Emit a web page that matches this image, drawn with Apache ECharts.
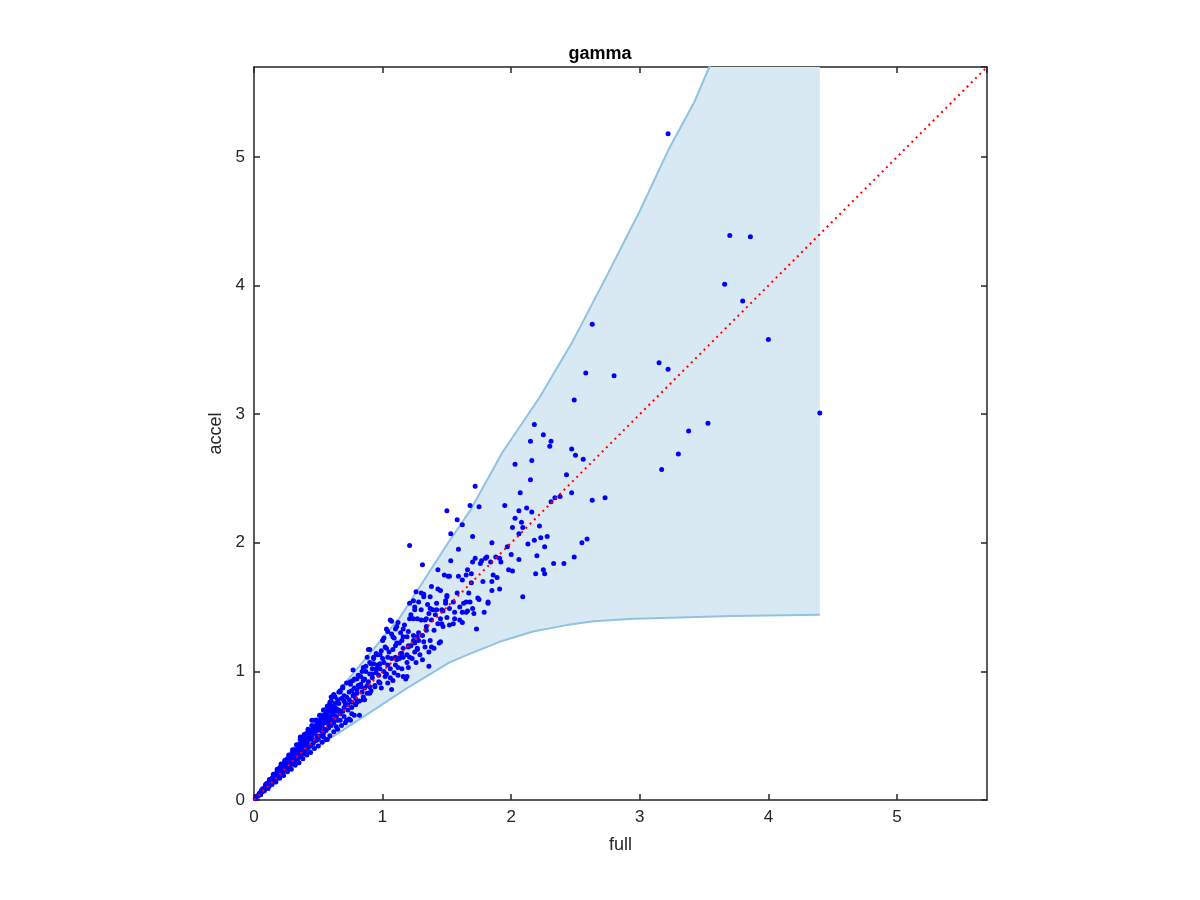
<!DOCTYPE html>
<html>
<head>
<meta charset="utf-8">
<style>html,body{margin:0;padding:0;background:#fff;}#c{width:1200px;height:900px;}</style>
<script src="https://cdn.jsdelivr.net/npm/echarts@6/dist/echarts.min.js"></script>
</head>
<body>
<div id="c"></div>
<script>
// ---- data ----
var titleText = 'gamma';
var xName = 'full';
var yName = 'accel';
var axisMin = 0, axisMax = 5.7, tickStep = 1;

// band upper edge (full, accel)
var upperFull  = [0, 0.41, 0.75, 1.135, 1.29, 1.51, 1.68, 1.93, 2.22, 2.48, 2.74, 3.0, 3.22, 3.43, 3.54, 3.6];
var upperAccel = [0, 0.54, 0.96, 1.42, 1.66, 2.0, 2.25, 2.70, 3.13, 3.57, 4.07, 4.58, 5.05, 5.44, 5.7, 5.82];
// band lower edge
var lowerFull  = [0, 0.2, 0.41, 0.67, 0.9, 1.19, 1.52, 1.71, 1.91, 2.17, 2.43, 2.64, 2.95, 3.31, 3.72, 4.4];
var lowerAccel = [0, 0.19, 0.36, 0.53, 0.68, 0.87, 1.07, 1.15, 1.23, 1.31, 1.36, 1.39, 1.41, 1.42, 1.43, 1.44];
var bandRight = 4.4;

// identity reference line
var refLine = [[0, 0], [5.7, 5.7]];

// scatter points [full, accel]
var ptsOuter = [
[3.22,5.18],[3.70,4.39],[3.86,4.38],[3.66,4.01],[3.80,3.88],[4.00,3.58],[4.40,3.01],[2.63,3.70],[2.58,3.32],[2.80,3.30],
[3.15,3.40],[3.22,3.35],[2.49,3.11],[3.53,2.93],[3.38,2.87],[3.30,2.69],[3.17,2.57],[2.47,2.73],[2.50,2.68],[2.56,2.65],
[2.43,2.53],[2.47,2.39],[2.38,2.36],[2.63,2.33],[2.73,2.35],[2.59,2.03],[2.55,2.00],[2.49,1.89],[2.41,1.84]
];
var ptsMid = [
[2.18,2.92],[2.25,2.84],[2.31,2.79],[2.30,2.75],[2.15,2.79],[2.16,2.64],[2.03,2.61],[2.15,2.49],[2.07,2.39],[2.31,2.32],
[2.34,2.35],[1.72,2.44],[1.50,2.25],[1.58,2.18],[1.62,2.14],[1.68,2.29],[1.75,2.28],[1.53,2.07],[1.21,1.98],[1.59,1.95],
[1.31,1.83],[1.53,1.86],[1.70,2.05],[1.85,2.00],[1.95,2.29],[2.06,2.25],[2.12,2.27],[2.03,2.19],[2.08,2.16],[2.16,2.24],
[2.01,2.12],[2.09,2.12],[2.22,2.13],[2.06,2.07],[1.97,1.97],[2.13,1.99],[2.18,2.02],[2.23,2.04],[2.28,2.05],[2.26,1.97],
[2.20,1.90],[2.00,1.91],[2.06,1.87],[2.33,1.84],[2.25,1.79],[2.26,1.76],[2.19,1.76],[2.09,1.58],[1.98,1.79],[2.01,1.78],
[1.91,1.88],[1.92,1.85],[1.88,1.89],[1.81,1.89],[1.80,1.88],[1.77,1.86],[1.72,1.88],[1.76,1.84],[1.70,1.85],[1.84,1.85],
[1.86,1.75],[1.89,1.73],[1.91,1.64],[1.85,1.63],[1.66,1.79],[1.69,1.76],[1.65,1.75],[1.62,1.71],[1.59,1.74],[1.69,1.69],
[1.78,1.70],[1.85,1.70],[1.48,1.75],[1.52,1.74],[1.43,1.79],[1.38,1.66],[1.43,1.64],[1.45,1.63],[1.50,1.59],[1.58,1.61],
[1.67,1.61],[1.75,1.56],[1.82,1.53],[1.79,1.46],[1.73,1.33],[1.70,1.49],[1.65,1.54],[1.63,1.53],[1.55,1.54],[1.49,1.55],
[1.47,1.47],[1.52,1.49],[1.62,1.46],[1.66,1.47],[1.71,1.45],[1.56,1.41],[1.62,1.38],[1.46,1.48],[1.42,1.48],[1.39,1.48],
[1.36,1.45],[1.34,1.41],[1.38,1.40],[1.46,1.37],[1.26,1.62],[1.32,1.58],[1.25,1.50],[1.21,1.53],[1.24,1.41],[1.30,1.40],
[1.32,1.60],[1.30,1.61],[1.24,1.55],[1.37,1.58],[1.50,1.58],[1.25,1.48],[1.30,1.48],[1.37,1.49],[1.42,1.53],[1.49,1.53],
[1.21,1.41],[1.27,1.41],[1.33,1.40],[1.41,1.44],[1.45,1.41],[1.50,1.42],[1.47,1.35],[1.12,1.38],[1.16,1.33],[1.10,1.33],
[1.60,1.40],[1.65,1.46],[1.56,1.46],[1.55,1.37],[1.60,1.50],[1.74,1.57],[1.82,1.54],[1.68,1.54],[1.52,1.36],[1.45,1.23],
[1.40,1.18],[1.36,1.15],[1.27,1.17],[1.21,1.11],[1.14,1.11],[1.51,1.74],[1.34,1.35],[1.28,1.30],[1.22,1.44],[1.17,1.36],
[1.31,1.28],[1.40,1.32],[1.43,1.37],[1.35,1.52],[1.28,1.54]
];
var ptsInner = [
[1.06,1.40],[1.03,1.33],[1.01,1.26],[1.09,1.26],[1.07,1.29],[1.11,1.22],[1.16,1.27],[0.89,1.17],[1.02,1.19],[0.93,1.11],
[0.98,1.13],[1.20,1.19],[1.25,1.15],[1.15,1.14],[1.10,1.11],[1.28,1.24],[1.32,1.23],[1.37,1.24],[1.34,1.32],[1.24,1.24],
[1.20,1.31],[1.44,1.22],[1.38,1.19],[1.31,1.09],[1.36,1.04],[1.20,1.03],
[1.07,1.39],[1.11,1.35],[1.04,1.31],[1.08,1.27],[1.14,1.30],[1.19,1.27],[1.24,1.28],[1.27,1.27],[1.00,1.24],[1.13,1.22],
[1.20,1.20],[1.03,1.18],[1.08,1.17],[1.14,1.14],[0.95,1.14],[0.90,1.17],[1.04,1.11],[1.11,1.09],[1.19,1.07],[1.01,1.07],
[0.88,1.11],[0.93,1.06],[0.98,1.02],[1.06,1.02],[0.77,1.01],[0.85,1.03],[0.90,0.98],[0.97,0.97],[1.02,0.96],[1.08,0.93],
[1.18,0.94],[0.80,0.94],[0.85,0.93],[0.75,0.92],[0.81,0.89],[0.88,0.89],[0.94,0.89],[0.99,0.87],[0.69,0.88],[0.76,0.85],
[0.84,0.84],[0.90,0.83],[0.67,0.84],[0.62,0.82],[0.72,0.80],[0.79,0.79],[0.86,0.78],[0.59,0.76],[0.66,0.75],[0.73,0.74],
[0.80,0.76],[0.82,0.66],[0.76,0.67],[0.55,0.70],[0.62,0.69],[0.68,0.69],[0.47,0.62],[0.54,0.62],[0.60,0.62],[0.67,0.62],
[0.72,0.62],[0.51,0.57],[0.58,0.57],[0.64,0.57],[0.91,1.06],[1.04,0.91],[1.19,0.96],[1.12,1.03],[1.16,1.11],[1.27,1.18],
[1.07,0.86],[1.16,0.96],[0.98,0.91],[0.90,0.88],[0.85,0.78],[0.80,0.83],[0.76,0.76],[0.75,0.62],[0.69,0.69],[0.64,0.71],
[0.57,0.69],[0.60,0.80],[0.67,0.85],[0.72,0.91],[0.77,0.93],[0.54,0.49],[0.49,0.62],[0.45,0.62],[0.57,0.47],[0.41,0.52],
[0.36,0.49],[0.63,0.72],[0.65,0.78],[0.70,0.77],[0.74,0.84],[0.78,0.87],[0.83,0.96],[0.87,1.00],[0.92,0.95],[0.96,1.05],
[0.70,0.72],[0.78,0.82],[0.83,0.88],[0.95,0.99],[1.00,1.10],[1.05,1.15],[1.10,1.20],[1.15,1.24],[0.86,0.94],[0.92,1.02],
[0.70,0.65],[0.73,0.70],[0.76,0.72],[0.79,0.74],[0.82,0.77],[0.85,0.80],[0.88,0.83],[0.91,0.85],[0.94,0.88],[0.97,0.92],
[0.75,0.90],[0.78,0.94],[0.81,0.97],[0.84,1.00],[0.87,1.04],[0.90,1.07],[0.93,1.10],[0.96,1.13],[0.99,1.16],
[0.71,0.75],[0.74,0.78],[0.77,0.81],[0.80,0.86],[0.83,0.90],[0.86,0.87],[0.89,0.92],[0.92,0.98],[0.95,1.02],[0.98,1.06],
[1.01,1.00],[1.04,1.05],[1.07,1.10],[1.10,1.05],[1.13,1.10],[1.16,1.18],[1.19,1.13],[1.22,1.20],[1.25,1.22],[1.03,0.98],
[1.06,0.95],[1.09,0.99],[1.12,0.97],[1.15,1.02],[1.23,1.10],[1.29,1.13],[1.33,1.19],[1.26,1.07]
];
var ptsDense = [
[0.01,0.01],[0.02,0.03],[0.03,0.03],[0.04,0.05],[0.05,0.06],[0.05,0.04],[0.06,0.07],[0.07,0.09],[0.07,0.07],[0.08,0.08],
[0.09,0.11],[0.10,0.10],[0.10,0.13],[0.11,0.12],[0.12,0.15],[0.12,0.11],[0.13,0.14],[0.14,0.17],[0.14,0.13],[0.15,0.16],
[0.16,0.20],[0.16,0.15],[0.17,0.19],[0.18,0.17],[0.18,0.22],[0.19,0.21],[0.20,0.19],[0.20,0.25],[0.21,0.23],[0.22,0.21],
[0.22,0.27],[0.23,0.25],[0.24,0.23],[0.24,0.30],[0.25,0.27],[0.26,0.25],[0.26,0.32],[0.27,0.29],[0.28,0.27],[0.28,0.34],
[0.29,0.31],[0.30,0.28],[0.30,0.37],[0.31,0.33],[0.32,0.30],[0.32,0.39],[0.33,0.36],[0.34,0.32],[0.34,0.42],[0.35,0.38],
[0.36,0.34],[0.36,0.44],[0.37,0.40],[0.38,0.36],[0.38,0.47],[0.39,0.43],[0.40,0.38],[0.40,0.49],[0.41,0.45],[0.42,0.40],
[0.42,0.51],[0.43,0.47],[0.44,0.42],[0.44,0.54],[0.45,0.49],[0.46,0.44],[0.46,0.56],[0.47,0.52],[0.48,0.46],[0.48,0.58],
[0.49,0.54],[0.50,0.47],[0.50,0.61],[0.51,0.56],[0.52,0.50],[0.52,0.63],[0.53,0.58],[0.54,0.52],[0.54,0.66],[0.55,0.60],
[0.56,0.54],[0.56,0.68],[0.57,0.63],[0.58,0.56],[0.58,0.70],[0.59,0.65],[0.60,0.58],[0.60,0.73],[0.61,0.67],[0.62,0.60],
[0.63,0.75],[0.64,0.69],[0.65,0.62],[0.15,0.18],[0.25,0.29],[0.35,0.41],[0.45,0.52],[0.55,0.63],[0.19,0.23],[0.29,0.35],
[0.39,0.46],[0.49,0.58],[0.59,0.69],[0.23,0.28],[0.33,0.39],[0.43,0.51],[0.53,0.62],[0.21,0.26],[0.31,0.37],[0.41,0.48],
[0.51,0.60],[0.61,0.71],[0.27,0.32],[0.37,0.44],[0.47,0.55],[0.57,0.66],[0.62,0.66],[0.66,0.70],[0.68,0.79],[0.70,0.81],
[0.05,0.04],[0.08,0.07],[0.11,0.09],[0.14,0.12],[0.17,0.14],[0.20,0.17],[0.23,0.19],[0.26,0.22],[0.29,0.24],[0.32,0.27],
[0.35,0.29],[0.38,0.32],[0.41,0.35],[0.44,0.37],[0.47,0.40],[0.50,0.42],[0.53,0.45],[0.56,0.47],[0.59,0.50],[0.62,0.53],
[0.65,0.55],[0.68,0.58],[0.71,0.60],[0.74,0.63],[0.78,0.66],
[0.06,0.08],[0.09,0.12],[0.12,0.16],[0.15,0.20],[0.18,0.24],[0.21,0.28],[0.24,0.31],[0.27,0.35],[0.30,0.39],[0.33,0.43],
[0.36,0.47],[0.39,0.51],[0.42,0.55],[0.45,0.58],[0.48,0.62],[0.51,0.66],[0.54,0.70],[0.57,0.73],[0.60,0.77],[0.63,0.80],
[0.66,0.84],[0.69,0.87],
[0.06,0.06],[0.13,0.13],[0.19,0.19],[0.25,0.24],[0.31,0.31],[0.37,0.37],[0.43,0.43],[0.49,0.50],[0.55,0.55],[0.61,0.62],
[0.67,0.67],[0.28,0.30],[0.34,0.35],[0.40,0.42],[0.46,0.47],[0.52,0.54],[0.58,0.60],[0.64,0.65]
];
var points = ptsDense.concat(ptsInner, ptsMid, ptsOuter);

// ---- chart ----
var axisColor = '#262626';
var fontFam = '"Liberation Sans", Arial, Helvetica, sans-serif';
var chart = echarts.init(document.getElementById('c'), null, {renderer: 'canvas'});

function mkAxis(pos, showLabel, name, isY) {
  var a = {
    type: 'value', position: pos, min: axisMin, max: axisMax, interval: tickStep,
    axisLine: {show: true, onZero: false, lineStyle: {color: axisColor, width: 1.5}},
    axisTick: {show: true, inside: true, length: 6, lineStyle: {color: axisColor, width: 1.5}},
    splitLine: {show: false},
    axisLabel: {show: showLabel, color: axisColor, fontSize: 17, fontFamily: fontFam, margin: 9, showMaxLabel: false}
  };
  if (name) {
    a.name = name; a.nameLocation = 'middle';
    a.nameTextStyle = {color: axisColor, fontSize: 18, fontFamily: fontFam};
    a.nameGap = isY ? 29 : 36;
  }
  return a;
}

var option = {
  backgroundColor: '#ffffff',
  animation: false,
  title: {text: titleText, left: 'center', top: 40,
    textStyle: {fontSize: 18, fontWeight: 'bold', color: '#000', fontFamily: fontFam}},
  grid: {left: 254, top: 67, width: 733, height: 733, containLabel: false},
  xAxis: [mkAxis('bottom', true, xName, false), mkAxis('top', false, null, false)],
  yAxis: [mkAxis('left', true, yName, true), mkAxis('right', false, null, true)],
  series: [
    {
      type: 'custom', clip: true, z: 1, silent: true,
      data: [[0, 0]],
      renderItem: function (params, api) {
        var pts = [];
        for (var i = 0; i < upperFull.length; i++) pts.push(api.coord([upperFull[i], upperAccel[i]]));
        pts.push(api.coord([bandRight, upperAccel[upperAccel.length - 1]]));
        for (var j = lowerFull.length - 1; j >= 0; j--) pts.push(api.coord([lowerFull[j], lowerAccel[j]]));
        return {type: 'polygon', shape: {points: pts}, style: {fill: '#d9e9f4', stroke: null}};
      }
    },
    {
      type: 'line', z: 2, silent: true, showSymbol: false, clip: true,
      data: upperFull.map(function (v, i) { return [v, upperAccel[i]]; }),
      lineStyle: {color: '#8ec3e2', width: 2}
    },
    {
      type: 'line', z: 2, silent: true, showSymbol: false, clip: true,
      data: lowerFull.map(function (v, i) { return [v, lowerAccel[i]]; }),
      lineStyle: {color: '#8ec3e2', width: 2}
    },
    {
      type: 'scatter', z: 3, silent: true, symbol: 'circle', symbolSize: 5,
      data: points, itemStyle: {color: '#0000ff', opacity: 1}
    },
    {
      type: 'line', z: 4, silent: true, showSymbol: false, clip: true,
      data: refLine,
      lineStyle: {color: '#ff0000', width: 2, type: [2, 4]}
    }
  ]
};
chart.setOption(option);
</script>
</body>
</html>
